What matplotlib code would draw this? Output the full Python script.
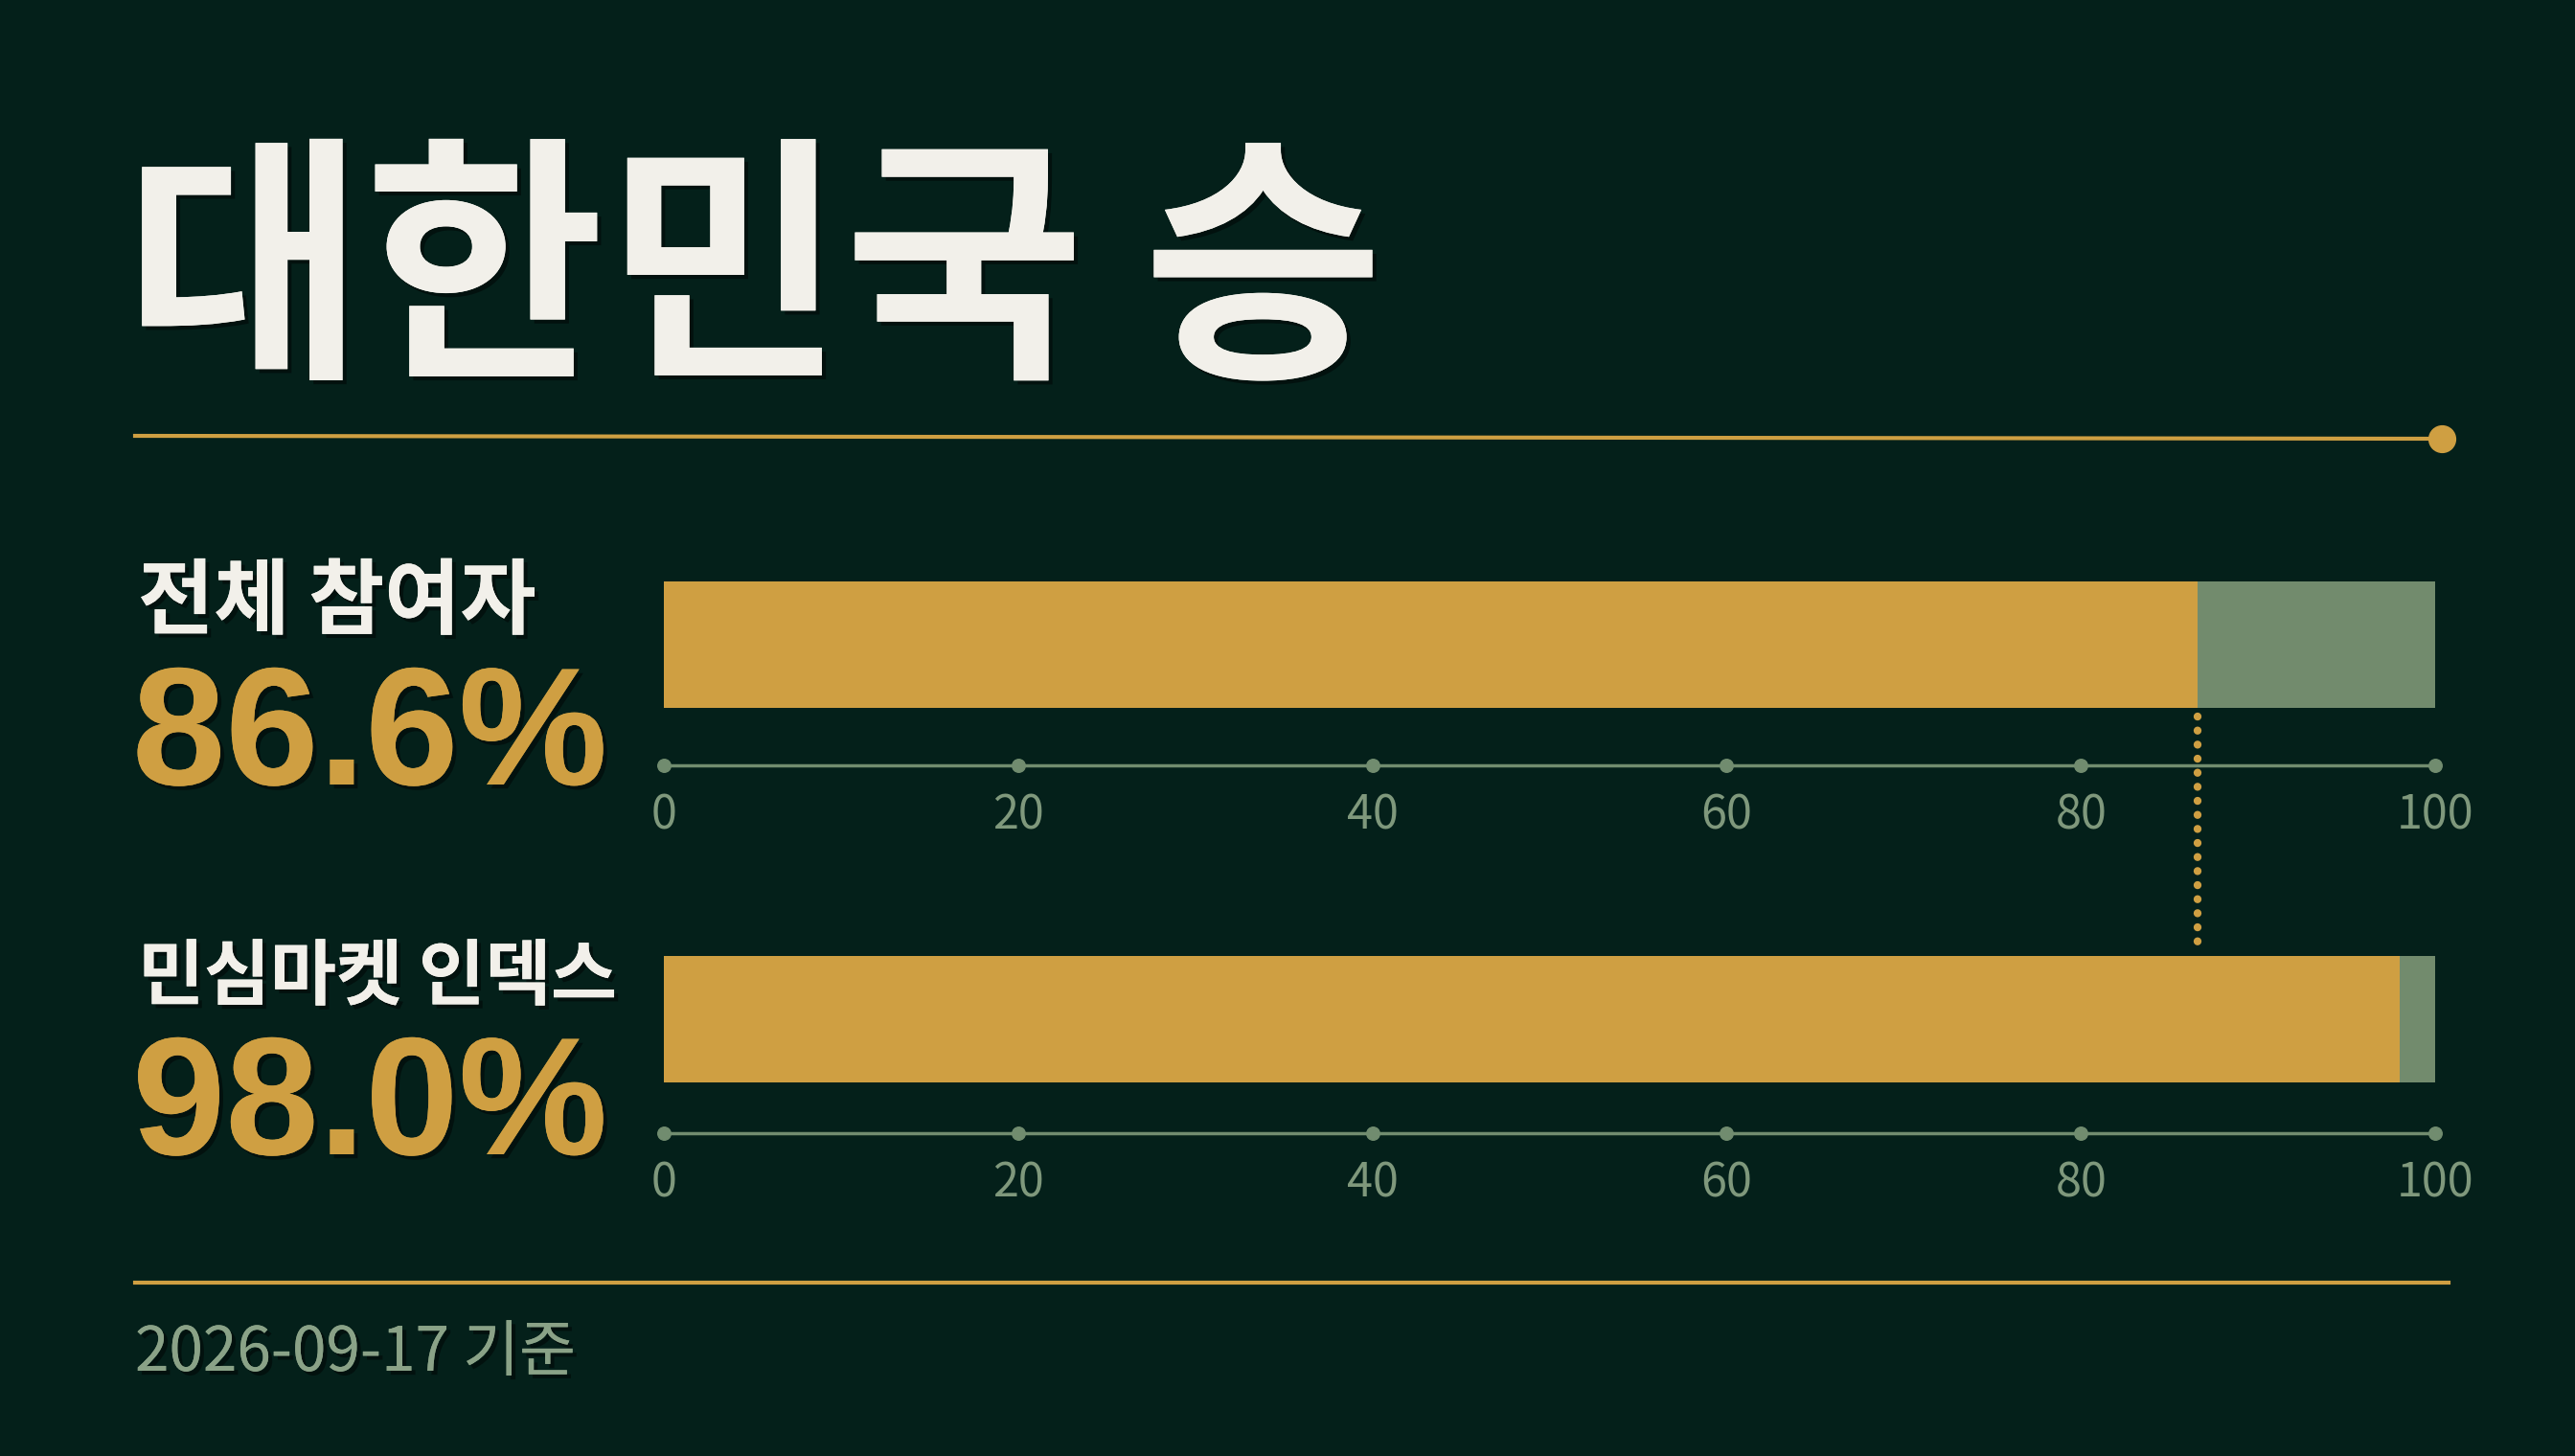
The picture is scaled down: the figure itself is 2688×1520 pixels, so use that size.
import matplotlib
matplotlib.use("Agg")
import matplotlib.pyplot as plt
import matplotlib.patheffects as pe
from matplotlib.lines import Line2D

# canvas in pixels
W, H = 2688, 1520
DPI = 100

# data
title = "대한민국 승"
labels = ["전체 참여자", "민심마켓 인덱스"]
values = [86.6, 98.0]
ticks = [0, 20, 40, 60, 80, 100]
footer = "2026-09-17 기준"

# colours
BG = "#04201a"
GOLD = "#cf9f42"
REST = "#728b6d"
AXIS = "#718c6f"
TICKTXT = "#7f987c"
WHITE = "#f2f0ea"
FOOT = "#8aa287"

plt.rcParams['font.family'] = ['Noto Sans CJK KR', 'DejaVu Sans']

fig = plt.figure(figsize=(W / DPI, H / DPI), dpi=DPI, facecolor=BG)


def fx(px):
    return px / W


def fy(py):
    return 1 - py / H


shadow = [pe.withSimplePatchShadow(offset=(3, -3), shadow_rgbFace='black', alpha=0.45), pe.Normal()]

# title + gold rule with dot
fig.text(fx(130), fy(373), title, fontsize=196, fontweight='black', color=WHITE,
         ha='left', va='baseline', path_effects=shadow)
fig.add_artist(Line2D([fx(141), fx(2549)], [fy(455), fy(458)], transform=fig.transFigure,
                      color=GOLD, lw=3))
fig.add_artist(Line2D([fx(2549)], [fy(458)], transform=fig.transFigure, marker='o',
                      markersize=20, color=GOLD, lw=0))

# row layout (pixels): bar top, axis line, label baseline, number baseline, label size
BAR_H = 132
rows = [
    dict(bar_top=607, axis=799, lab=655, num=819, lsize=62),
    dict(bar_top=998, axis=1183, lab=1043, num=1205, lsize=54),
]
X0, X1 = 693, 2542

axes = []
for i, r in enumerate(rows):
    fig.text(fx(144), fy(r['lab']), labels[i], fontsize=r['lsize'], fontweight='bold', color=WHITE,
             ha='left', va='baseline', path_effects=shadow)
    fig.text(fx(138), fy(r['num']), f"{values[i]:.1f}%", fontsize=126, fontweight='bold',
             family=['Liberation Sans', 'DejaVu Sans'], color=GOLD,
             ha='left', va='baseline', path_effects=shadow)

    yline = -0.5 - (r['axis'] - r['bar_top'] - BAR_H) / BAR_H
    ax = fig.add_axes([fx(X0), fy(r['axis']), fx(X1) - fx(X0), (r['axis'] - r['bar_top']) / H])
    ax.set_facecolor('none')
    ax.barh(0, values[i], height=1, color=GOLD)
    ax.barh(0, 100 - values[i], left=values[i], height=1, color=REST)
    ax.plot([ticks[0], ticks[-1]], [yline, yline], color=AXIS, lw=2.5, clip_on=False)
    ax.scatter(ticks, [yline] * len(ticks), s=95, color=AXIS, clip_on=False, zorder=3)
    ax.set_xlim(0, 100)
    ax.set_ylim(yline, 0.5)
    ax.set_xticks(ticks)
    ax.set_yticks([])
    ax.tick_params(axis='x', length=0, pad=20, labelsize=35, labelcolor=TICKTXT)
    for s in ax.spines.values():
        s.set_visible(False)
    axes.append(ax)

# dotted connector from first bar end down to second bar
y_start = -0.5 - 9 / BAR_H
y_end = -0.5 - (rows[1]['bar_top'] - 9 - rows[0]['bar_top'] - BAR_H) / BAR_H
axes[0].plot([values[0], values[0]], [y_start, y_end], color=GOLD, lw=6,
             ls=(0, (0.01, 1.75)), dash_capstyle='round', clip_on=False, zorder=4)

# bottom rule + footer
fig.add_artist(Line2D([fx(141), fx(2556)], [fy(1339), fy(1339)], transform=fig.transFigure,
                      color=GOLD, lw=3))
fig.text(fx(141), fy(1431), footer, fontsize=46, color=FOOT, ha='left', va='baseline',
         path_effects=shadow)

fig.savefig("out.png", dpi=DPI, facecolor=BG)
